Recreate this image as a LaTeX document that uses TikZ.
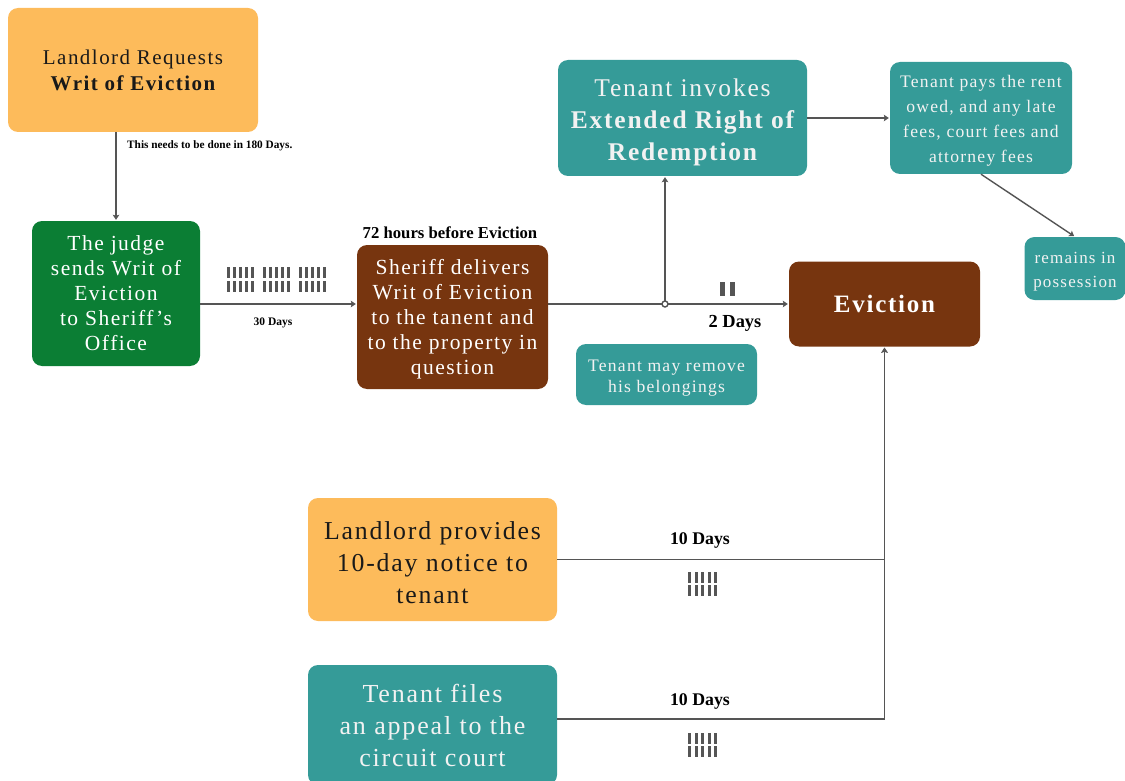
\documentclass[tikz,border=0pt]{standalone}
\usepackage{fontspec}
\setmainfont[LetterSpace=7]{Liberation Serif}
\newfontfamily\lblfont{Liberation Serif}
\usetikzlibrary{arrows.meta}
\definecolor{corange}{HTML}{FDBB5B}
\definecolor{cgreen}{HTML}{0B7E34}
\definecolor{cbrown}{HTML}{77350F}
\definecolor{cteal}{HTML}{359B98}
\definecolor{cline}{HTML}{555555}
\newcommand\dn[1]{\rule{0pt}{#1pt}}
\tikzset{
  box/.style={rounded corners=10pt, inner sep=0pt, align=center, draw=none},
  orangebox/.style={box, fill=corange, text=black!90},
  greenbox/.style={box, fill=cgreen, text=white},
  brownbox/.style={box, fill=cbrown, text=white},
  tealbox/.style={box, fill=cteal, text=white!95!black},
  arr/.style={draw=cline, line width=1.4pt, -{Stealth[length=5pt,width=6.5pt,inset=1pt]}, shorten >=1pt},
  ln/.style={draw=cline, line width=1.4pt},
  lbl/.style={text=black, inner sep=0pt},
  tally/.style={fill=cline, draw=none}
}
\begin{document}
\begin{tikzpicture}[x=1pt,y=-1pt]
\useasboundingbox (0,0) rectangle (1125,781);
\clip (0,0) rectangle (1125,781);
% boxes
\node[orangebox, minimum width=250, minimum height=124, font=\fontsize{21}{26}\selectfont] (land) at (133,70)
  {Landlord Requests\\\bfseries Writ of Eviction};
\node[greenbox, minimum width=168, minimum height=145, font=\fontsize{21.5}{25}\selectfont] (judge) at (116,293.5)
  {The judge\\sends Writ of\\Eviction\\to Sheriff's\\Office};
\node[brownbox, minimum width=191, minimum height=144, font=\fontsize{21.5}{25}\selectfont] (sheriff) at (452.5,317)
  {\dn{19}Sheriff delivers\\Writ of Eviction\\to the tanent and\\to the property in\\question};
\node[tealbox, minimum width=249, minimum height=116, font=\fontsize{25.5}{32}\selectfont] (invoke) at (682.5,118)
  {\dn{25.5}Tenant invokes\\\bfseries Extended Right of\\\bfseries Redemption};
\node[tealbox, minimum width=182, minimum height=112, font=\fontsize{17.6}{25}\selectfont] (pays) at (981,118)
  {\dn{17}Tenant pays the rent\\owed, and any late\\fees, court fees and\\attorney fees};
\node[tealbox, minimum width=101, minimum height=63, font=\fontsize{17}{24}\selectfont] (remains) at (1075,268.5)
  {\dn{17.6}remains in\\possession};
\node[brownbox, minimum width=191, minimum height=85, font=\fontsize{25}{30}\selectfont\bfseries] (evict) at (884.5,304)
  {Eviction};
\node[tealbox, minimum width=181, minimum height=61, font=\fontsize{17.6}{21}\selectfont] (remove) at (666.5,374.5)
  {\dn{18}Tenant may remove\\his belongings};
\node[orangebox, minimum width=249, minimum height=123, font=\fontsize{25.8}{32}\selectfont] (notice) at (432.5,559.5)
  {\dn{25}Landlord provides\\10-day notice to\\tenant};
\node[tealbox, minimum width=249, minimum height=120, font=\fontsize{26}{32}\selectfont] (appeal) at (432.5,725)
  {Tenant files\\an appeal to the\\circuit court};
% connectors
\draw[arr] (land.south -| judge.north) -- (judge.north);
\draw[arr] (judge.east |- evict.west) -- (sheriff.west |- evict.west);
\coordinate (jn) at (665,304);
\draw[arr] (sheriff.east |- evict.west) -- (evict.west);
\draw[arr] (jn) -- (jn |- invoke.south);
\draw[ln, fill=white] (jn) circle (3);
\draw[arr] (invoke.east) -- (pays.west);
\draw[arr] (pays.south) -- (remains.north);
\draw[arr] (notice.east) -| (evict.south);
\draw[arr] ([yshift=6pt]appeal.east) -| (evict.south);
% labels
\node[lbl, anchor=west, font=\lblfont\bfseries\fontsize{11.3}{13}\selectfont] (l180) at (127,146) {This needs to be done in 180 Days.};
\node[lbl, font=\lblfont\bfseries\fontsize{11.5}{13}\selectfont] (l30) at (273,323) {30 Days};
\node[lbl, font=\lblfont\bfseries\fontsize{16.7}{18}\selectfont] (l72) at (450,233) {72 hours before Eviction};
\node[lbl, font=\lblfont\bfseries\fontsize{18.4}{20}\selectfont] (l2) at (735,323) {2 Days};
\node[lbl, font=\lblfont\bfseries\fontsize{17.8}{20}\selectfont] (l10a) at (700,540) {10 Days};
\node[lbl, font=\lblfont\bfseries\fontsize{17.8}{20}\selectfont] (l10b) at (700,701) {10 Days};
% tallies
\foreach \gx in {227,263,299}{
  \foreach \i in {0,...,4}{
    \fill[tally] (\gx+\i*6,267) rectangle ++(3.4,11);
    \fill[tally] (\gx+\i*6,281) rectangle ++(3.4,11);
  }
}
\foreach \gy in {572,733}{
  \foreach \i in {0,...,4}{
    \fill[tally] (688+\i*6.5,\gy) rectangle ++(3.4,10.5);
    \fill[tally] (688+\i*6.5,\gy+12.5) rectangle ++(3.4,11.5);
  }
}
\fill[tally] (720,282) rectangle (725,296);
\fill[tally] (730,282) rectangle (735,296);
\end{tikzpicture}
\end{document}
